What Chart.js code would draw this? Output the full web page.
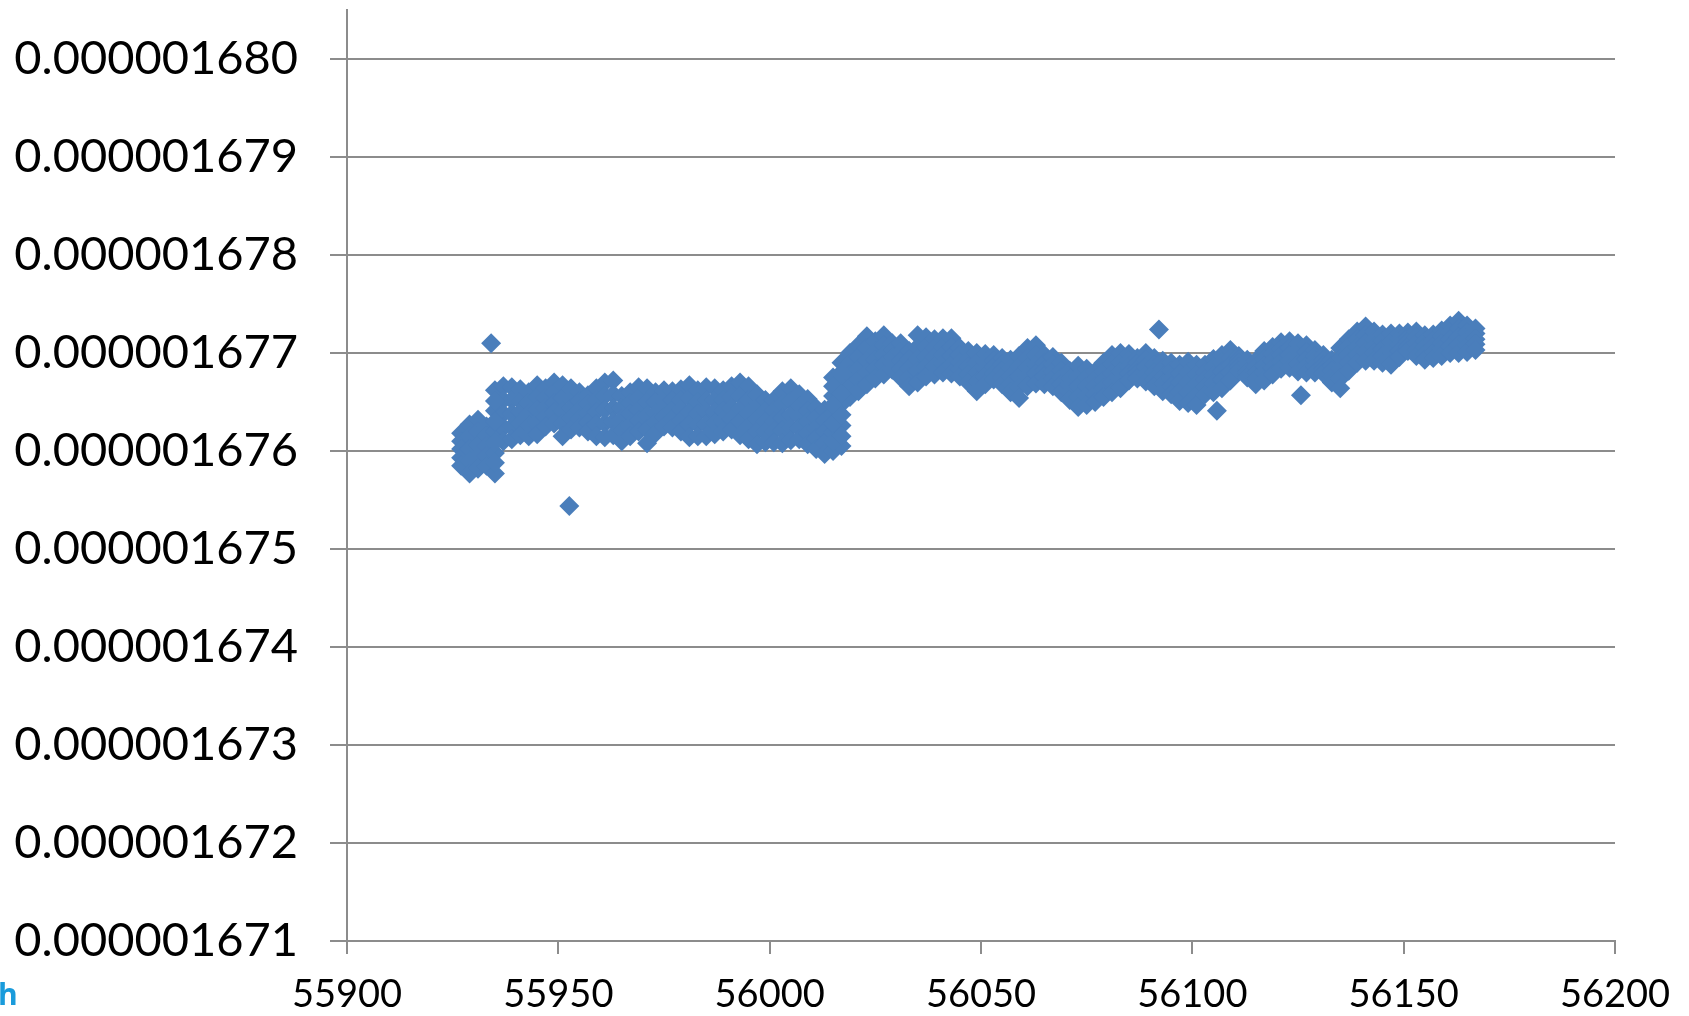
<!DOCTYPE html>
<html><head><meta charset="utf-8">
<script src="https://cdn.jsdelivr.net/npm/chart.js@4.4.1/dist/chart.umd.min.js"></script>
<style>
html,body{margin:0;padding:0;background:#fff;overflow:hidden}
#wrap{position:relative;width:1689px;height:1016px}
#mark{position:absolute;left:-2px;top:979px;font:bold 30px 'Open Sans',sans-serif;line-height:30px;color:#1a9bdb}
</style></head>
<body><div id="wrap"><canvas id="c" width="1689" height="1016"></canvas><div id="mark">h</div></div>
<script>
// y values are in units of 1e-9 (e.g. 1676.4 -> 0.0000016764)
const UNIT = 1e-9;
const xTickLabels = ['55900','55950','56000','56050','56100','56150','56200'];
const yTickLabels = ['0.000001671','0.000001672','0.000001673','0.000001674','0.000001675','0.000001676','0.000001677','0.000001678','0.000001679','0.000001680'];

const xDays = [55927,55929,55931,55933,55935,55937,55939,55941,55943,55945,
55947,55949,55951,55953,55955,55957,55959,55961,55963,55965,
55967,55969,55971,55973,55975,55977,55979,55981,55983,55985,
55987,55989,55991,55993,55995,55997,55999,56001,56003,56005,
56007,56009,56011,56013,56015,56017,56019,56021,56023,56025,
56027,56029,56031,56033,56035,56037,56039,56041,56043,56045,
56047,56049,56051,56053,56055,56057,56059,56061,56063,56065,
56067,56069,56071,56073,56075,56077,56079,56081,56083,56085,
56087,56089,56091,56093,56095,56097,56099,56101,56103,56105,
56107,56109,56111,56113,56115,56117,56119,56121,56123,56125,
56127,56129,56131,56133,56135,56137,56139,56141,56143,56145,
56147,56149,56151,56153,56155,56157,56159,56161,56163,56165,
56167];

const yTop = [1676.18,1676.27,1676.32,1676.25,1676.62,1676.66,1676.65,1676.63,1676.60,1676.67,
1676.64,1676.70,1676.67,1676.64,1676.60,1676.57,1676.64,1676.70,1676.72,1676.56,
1676.60,1676.65,1676.64,1676.60,1676.62,1676.61,1676.63,1676.67,1676.62,1676.65,
1676.64,1676.62,1676.66,1676.70,1676.66,1676.58,1676.52,1676.52,1676.61,1676.64,
1676.58,1676.53,1676.44,1676.42,1676.75,1676.90,1677.00,1677.08,1677.17,1677.12,
1677.18,1677.10,1677.10,1677.02,1677.18,1677.16,1677.14,1677.15,1677.15,1677.05,
1677.02,1677.00,1676.99,1676.98,1676.95,1676.93,1676.97,1677.05,1677.08,1676.98,
1676.96,1676.90,1676.82,1676.87,1676.84,1676.81,1676.90,1676.98,1677.00,1676.99,
1676.95,1677.00,1676.95,1676.92,1676.90,1676.88,1676.91,1676.88,1676.88,1676.94,
1676.98,1677.03,1676.97,1676.93,1676.92,1677.02,1677.06,1677.11,1677.12,1677.10,
1677.08,1677.03,1676.98,1676.93,1677.05,1677.14,1677.22,1677.27,1677.22,1677.19,
1677.20,1677.20,1677.21,1677.22,1677.18,1677.19,1677.23,1677.28,1677.33,1677.28,
1677.25];

const yUpper = [1676.10,1676.15,1676.20,1676.15,1676.41,1676.52,1676.52,1676.51,1676.49,1676.55,
1676.54,1676.60,1676.54,1676.54,1676.51,1676.48,1676.52,1676.56,1676.58,1676.44,
1676.49,1676.54,1676.50,1676.50,1676.53,1676.52,1676.52,1676.54,1676.50,1676.52,
1676.52,1676.52,1676.55,1676.56,1676.52,1676.45,1676.41,1676.41,1676.48,1676.51,
1676.46,1676.41,1676.34,1676.31,1676.56,1676.69,1676.89,1676.96,1677.05,1677.02,
1677.08,1677.03,1677.01,1676.93,1677.06,1677.06,1677.05,1677.06,1677.06,1676.98,
1676.94,1676.90,1676.91,1676.92,1676.88,1676.85,1676.86,1676.95,1676.98,1676.90,
1676.88,1676.82,1676.74,1676.76,1676.75,1676.73,1676.81,1676.88,1676.91,1676.92,
1676.90,1676.93,1676.88,1676.84,1676.82,1676.79,1676.80,1676.78,1676.80,1676.86,
1676.90,1676.95,1676.93,1676.89,1676.86,1676.94,1676.99,1677.04,1677.05,1677.03,
1677.01,1676.97,1676.93,1676.87,1676.95,1677.06,1677.14,1677.18,1677.14,1677.12,
1677.12,1677.14,1677.16,1677.16,1677.12,1677.13,1677.17,1677.21,1677.25,1677.21,
1677.20];

const yMiddle = [1676.02,1676.02,1676.07,1676.05,1676.20,1676.38,1676.38,1676.40,1676.38,1676.42,
1676.44,1676.49,1676.41,1676.43,1676.42,1676.38,1676.40,1676.42,1676.44,1676.33,
1676.38,1676.42,1676.36,1676.39,1676.44,1676.42,1676.42,1676.40,1676.38,1676.40,
1676.40,1676.41,1676.44,1676.43,1676.39,1676.32,1676.30,1676.30,1676.34,1676.37,
1676.35,1676.30,1676.23,1676.20,1676.38,1676.48,1676.78,1676.84,1676.92,1676.93,
1676.98,1676.96,1676.92,1676.84,1676.94,1676.96,1676.96,1676.98,1676.97,1676.90,
1676.86,1676.80,1676.84,1676.86,1676.82,1676.76,1676.76,1676.86,1676.88,1676.83,
1676.81,1676.75,1676.67,1676.66,1676.66,1676.66,1676.72,1676.79,1676.82,1676.86,
1676.84,1676.86,1676.80,1676.76,1676.74,1676.70,1676.70,1676.68,1676.73,1676.77,
1676.81,1676.88,1676.90,1676.84,1676.80,1676.87,1676.92,1676.98,1676.98,1676.96,
1676.94,1676.92,1676.88,1676.82,1676.84,1676.98,1677.06,1677.10,1677.07,1677.04,
1677.04,1677.08,1677.12,1677.10,1677.06,1677.07,1677.10,1677.14,1677.16,1677.14,
1677.14];

const yLower = [1675.93,1675.90,1675.95,1675.95,1675.98,1676.24,1676.25,1676.28,1676.26,1676.30,
1676.35,1676.39,1676.28,1676.33,1676.33,1676.29,1676.27,1676.28,1676.30,1676.21,
1676.26,1676.31,1676.22,1676.29,1676.34,1676.33,1676.31,1676.27,1676.27,1676.27,
1676.29,1676.31,1676.33,1676.30,1676.25,1676.20,1676.20,1676.20,1676.21,1676.24,
1676.23,1676.18,1676.13,1676.08,1676.19,1676.26,1676.66,1676.73,1676.80,1676.84,
1676.88,1676.90,1676.84,1676.75,1676.82,1676.86,1676.87,1676.89,1676.88,1676.83,
1676.78,1676.71,1676.76,1676.79,1676.75,1676.68,1676.65,1676.76,1676.79,1676.76,
1676.74,1676.68,1676.60,1676.55,1676.56,1676.58,1676.64,1676.70,1676.73,1676.79,
1676.79,1676.78,1676.73,1676.69,1676.66,1676.60,1676.60,1676.57,1676.66,1676.69,
1676.73,1676.80,1676.86,1676.80,1676.74,1676.80,1676.85,1676.91,1676.92,1676.88,
1676.87,1676.86,1676.84,1676.76,1676.74,1676.90,1676.98,1677.01,1677.00,1676.97,
1676.96,1677.02,1677.07,1677.03,1676.99,1677.01,1677.04,1677.07,1677.08,1677.08,
1677.09];

const yBottom = [1675.85,1675.77,1675.82,1675.85,1675.77,1676.10,1676.12,1676.16,1676.15,1676.17,
1676.25,1676.28,1676.15,1676.22,1676.24,1676.20,1676.15,1676.14,1676.16,1676.10,
1676.15,1676.20,1676.08,1676.18,1676.25,1676.24,1676.20,1676.14,1676.15,1676.15,
1676.17,1676.20,1676.22,1676.16,1676.12,1676.07,1676.09,1676.09,1676.08,1676.11,
1676.12,1676.07,1676.02,1675.97,1676.00,1676.05,1676.55,1676.61,1676.68,1676.74,
1676.78,1676.83,1676.75,1676.66,1676.70,1676.76,1676.78,1676.80,1676.79,1676.76,
1676.70,1676.61,1676.68,1676.73,1676.68,1676.60,1676.54,1676.66,1676.69,1676.68,
1676.66,1676.60,1676.52,1676.45,1676.47,1676.50,1676.55,1676.60,1676.64,1676.72,
1676.74,1676.71,1676.66,1676.61,1676.58,1676.51,1676.49,1676.47,1676.58,1676.60,
1676.64,1676.72,1676.82,1676.75,1676.68,1676.72,1676.78,1676.84,1676.85,1676.81,
1676.80,1676.80,1676.79,1676.70,1676.64,1676.82,1676.90,1676.92,1676.92,1676.90,
1676.88,1676.96,1677.02,1676.97,1676.93,1676.95,1676.97,1677.00,1677.00,1677.01,
1677.03];

// extra readings where the band is wide (the two steps)
const extraX = [55935,55935,55935,55935,56015,56015,56015,56015,56017,56017,56017,56017];
const extraY = [1676.51,1676.30,1676.09,1675.88,1676.66,1676.47,1676.28,1676.10,1676.80,1676.58,1676.37,1676.15];

// isolated points
const outlierX = [55934.1,55952.6,56092.1,56105.8,56125.7];
const outlierY = [1677.10,1675.44,1677.24,1676.41,1676.57];

const points = [];
xDays.forEach((x, i) => {
  [yTop, yUpper, yMiddle, yLower, yBottom].forEach(arr => points.push({x: x, y: arr[i]}));
});
extraX.forEach((x, i) => points.push({x: x, y: extraY[i]}));
outlierX.forEach((x, i) => points.push({x: x, y: outlierY[i]}));

const GRID = '#8c8c8c';
new Chart(document.getElementById('c').getContext('2d'), {
  type: 'scatter',
  data: {datasets: [{
    data: points,
    pointStyle: 'rectRot',
    pointRadius: 10,
    backgroundColor: '#4a7ebb',
    borderColor: '#4a7ebb',
    borderWidth: 0
  }]},
  options: {
    responsive: false,
    animation: false,
    events: [],
    layout: {padding: {top: 8, right: 74, left: 0, bottom: 0}},
    plugins: {legend: {display: false}, tooltip: {enabled: false}},
    scales: {
      x: {
        type: 'linear', position: 'bottom',
        min: 55900, max: 56200,
        ticks: {
          stepSize: 50, maxRotation: 0, autoSkip: false, padding: 18,
          color: '#000', font: {family: 'Lato', size: 38},
          callback: (v) => { const i = Math.round((v - 55900) / 50); return xTickLabels[i] ?? ''; }
        },
        grid: {drawOnChartArea: false, drawTicks: true, tickLength: 13, color: GRID, lineWidth: 2},
        border: {display: true, color: GRID, width: 2},
        afterFit: (s) => { s.height = 75; s.paddingLeft = 0; s.paddingRight = 0; }
      },
      y: {
        type: 'linear', position: 'left',
        min: 1671, max: 1680.5,
        ticks: {
          stepSize: 1, includeBounds: false, padding: 32,
          color: '#000', font: {family: 'Lato', size: 47},
          callback: (v) => { const i = Math.round(v - 1671); return (Math.abs(v - Math.round(v)) < 1e-6) ? (yTickLabels[i] ?? '') : ''; }
        },
        grid: {color: GRID, lineWidth: 2, tickLength: 17, drawTicks: true},
        border: {display: true, color: GRID, width: 2},
        afterFit: (s) => { s.width = 347; s.paddingTop = 0; s.paddingBottom = 0; }
      }
    }
  }
});
</script>
</body></html>
